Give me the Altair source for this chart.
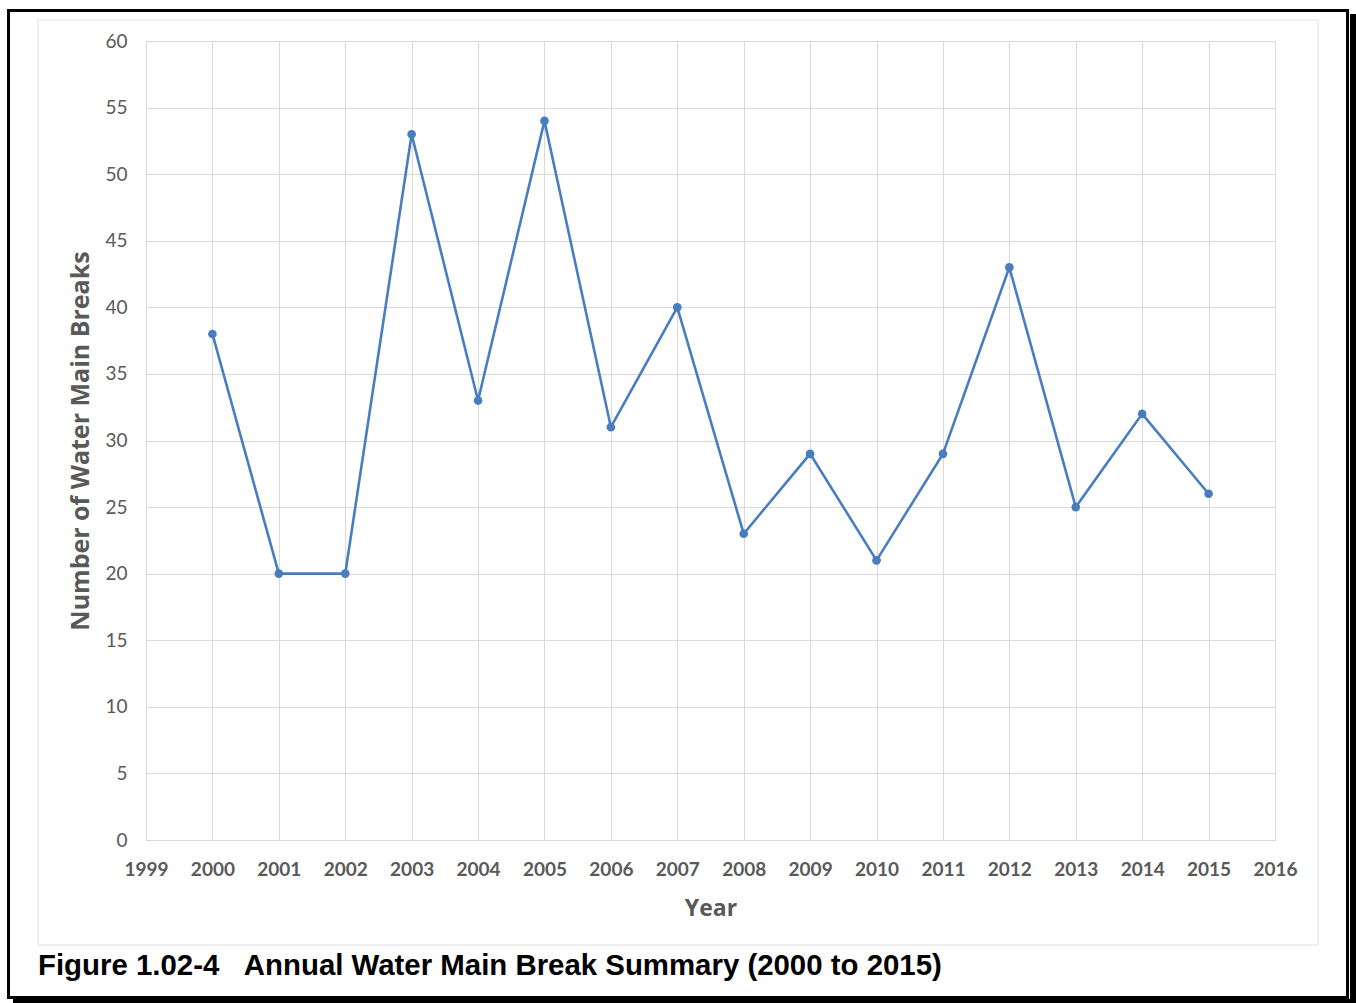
import altair as alt
import pandas as pd

# Annual count of water main breaks
years = [2000, 2001, 2002, 2003, 2004, 2005, 2006, 2007,
         2008, 2009, 2010, 2011, 2012, 2013, 2014, 2015]
breaks = [38, 20, 20, 53, 33, 54, 31, 40, 23, 29, 21, 29, 43, 25, 32, 26]

x_ticks = list(range(1999, 2017))
y_ticks = list(range(0, 61, 5))

# non-breaking spaces keep the wide gap after the figure number
caption = "Figure 1.02-4\u00a0\u00a0\u00a0Annual Water Main Break Summary (2000 to 2015)"

df = pd.DataFrame({"Year": years, "Breaks": breaks})
one = alt.Data(values=[{"k": 1}])

W, H = 1129, 799
PAD_L, PAD_T, PAD_R, PAD_B = 146, 41, 81, 163

LABEL_FONT = "Lato"
TITLE_FONT = "Open Sans"
GREY = "#595959"
BLUE = "#4a7dbf"

x_enc = alt.X(
    "Year:Q",
    scale=alt.Scale(domain=[1999, 2016], nice=False, zero=False),
    axis=alt.Axis(
        values=x_ticks, format="d", title="Year",
        labelFont=LABEL_FONT, labelFontSize=19, labelFontWeight="bold",
        labelColor=GREY, labelPadding=20, ticks=False, domain=False,
        gridColor="#d9d9d9", gridWidth=1,
        titleFont=TITLE_FONT, titleFontSize=23, titleFontWeight="bold",
        titleColor=GREY, titleX=W / 2, titleY=68, titleBaseline="middle",
        labelFlush=False, labelOverlap=False,
    ),
)
y_enc = alt.Y(
    "Breaks:Q",
    scale=alt.Scale(domain=[0, 60], nice=False),
    axis=alt.Axis(
        values=y_ticks, title="Number of Water Main Breaks",
        labelFont=LABEL_FONT, labelFontSize=19, labelColor=GREY,
        labelPadding=19, ticks=False, domain=False,
        gridColor="#d9d9d9", gridWidth=1,
        titleFont=TITLE_FONT, titleFontSize=25, titleFontWeight="bold",
        titleColor=GREY, titleX=-66, titleY=H / 2, titleBaseline="middle",
        titleAngle=270, labelFlush=False, labelOverlap=False,
    ),
)

line = alt.Chart(df).mark_line(color=BLUE, strokeWidth=2.6).encode(x=x_enc, y=y_enc)
pts = alt.Chart(df).mark_point(filled=True, color=BLUE, size=75, opacity=1).encode(
    x="Year:Q", y="Breaks:Q"
)

# Faint outer frame of the chart area
chart_frame = alt.Chart(one).mark_rect(
    fill=None, stroke="#ececec", strokeWidth=1.5
).encode(
    x=alt.value(38 - PAD_L), x2=alt.value(1318 - PAD_L),
    y=alt.value(20 - PAD_T), y2=alt.value(945 - PAD_T),
)

# Page border with drop shadow
border = alt.Chart(one).mark_rect(
    fill=None, stroke="black", strokeWidth=3
).encode(
    x=alt.value(8.5 - PAD_L), x2=alt.value(1347.5 - PAD_L),
    y=alt.value(10.5 - PAD_T), y2=alt.value(997.5 - PAD_T),
)
shadow_r = alt.Chart(one).mark_rect(fill="black").encode(
    x=alt.value(1350 - PAD_L), x2=alt.value(1356 - PAD_L),
    y=alt.value(14 - PAD_T), y2=alt.value(1003 - PAD_T),
)
shadow_b = alt.Chart(one).mark_rect(fill="black").encode(
    x=alt.value(13 - PAD_L), x2=alt.value(1356 - PAD_L),
    y=alt.value(999 - PAD_T), y2=alt.value(1003 - PAD_T),
)

cap = alt.Chart(one).mark_text(
    text=caption, align="left", baseline="middle",
    font="Liberation Sans", fontSize=29.4, fontWeight="bold", color="black",
).encode(x=alt.value(38 - PAD_L), y=alt.value(966 - PAD_T))

chart = alt.layer(
    chart_frame, line, pts, cap, border, shadow_r, shadow_b
).properties(
    width=W, height=H,
    padding={"left": PAD_L, "top": PAD_T, "right": PAD_R, "bottom": PAD_B},
    autosize=alt.AutoSizeParams(type="none"),
    background="white",
).configure_view(stroke=None)

chart.save("out.html", embed_options={"renderer": "svg", "actions": False})
